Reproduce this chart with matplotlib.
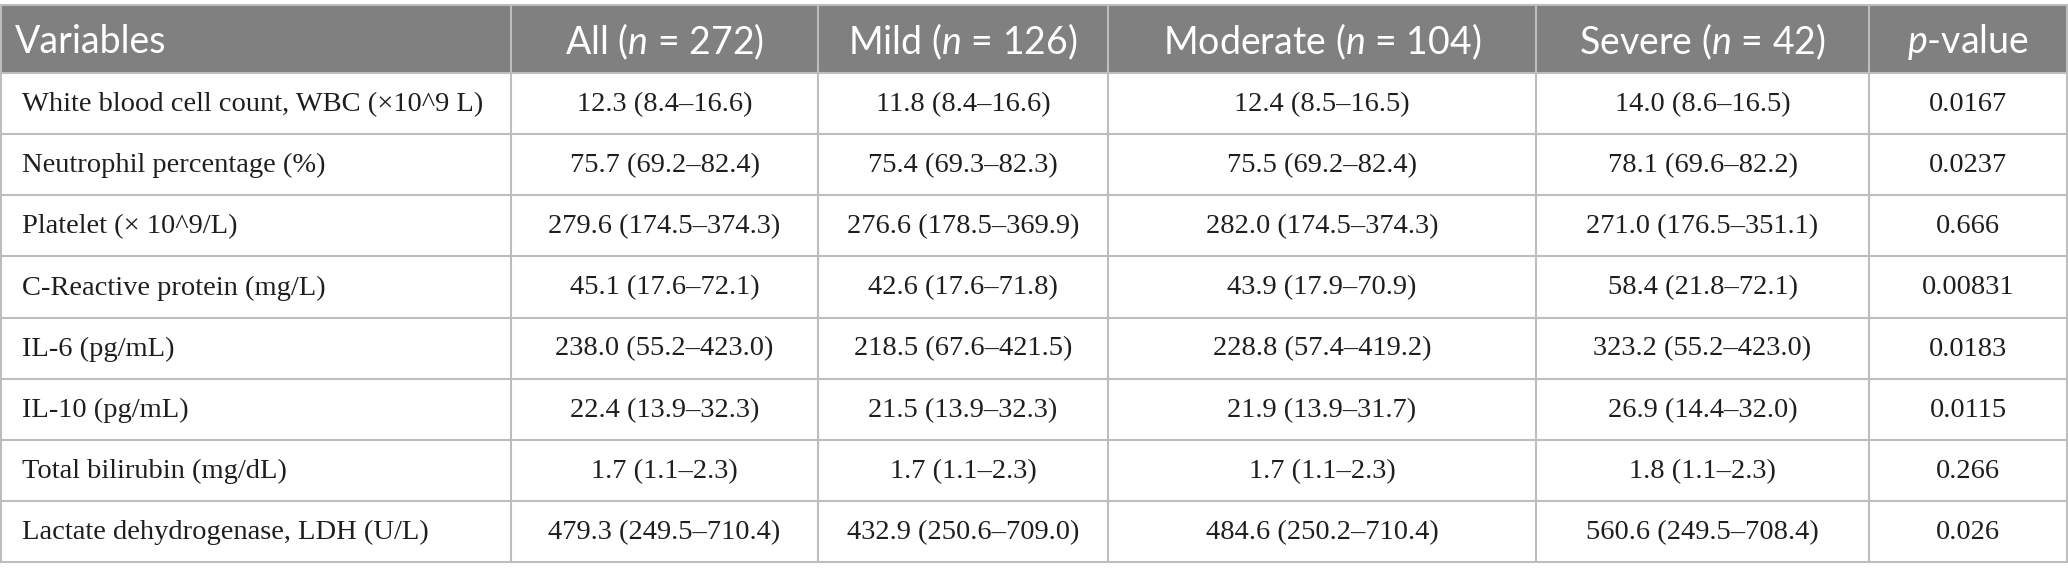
import matplotlib
matplotlib.use("Agg")
import matplotlib.pyplot as plt
from matplotlib.patches import Rectangle

plt.rcParams['mathtext.fontset'] = 'custom'
plt.rcParams['mathtext.rm'] = 'Lato'
plt.rcParams['mathtext.it'] = 'Lato:italic'

# table content
headers = ['Variables', 'All ($n$ = 272)', 'Mild ($n$ = 126)', 'Moderate ($n$ = 104)',
           'Severe ($n$ = 42)', '$p$-value']
variables = ['White blood cell count, WBC (×10^9 L)', 'Neutrophil percentage (%)',
             'Platelet (× 10^9/L)', 'C-Reactive protein (mg/L)', 'IL-6 (pg/mL)',
             'IL-10 (pg/mL)', 'Total bilirubin (mg/dL)', 'Lactate dehydrogenase, LDH (U/L)']
all_grp = ['12.3 (8.4–16.6)', '75.7 (69.2–82.4)', '279.6 (174.5–374.3)', '45.1 (17.6–72.1)',
           '238.0 (55.2–423.0)', '22.4 (13.9–32.3)', '1.7 (1.1–2.3)', '479.3 (249.5–710.4)']
mild = ['11.8 (8.4–16.6)', '75.4 (69.3–82.3)', '276.6 (178.5–369.9)', '42.6 (17.6–71.8)',
        '218.5 (67.6–421.5)', '21.5 (13.9–32.3)', '1.7 (1.1–2.3)', '432.9 (250.6–709.0)']
moderate = ['12.4 (8.5–16.5)', '75.5 (69.2–82.4)', '282.0 (174.5–374.3)', '43.9 (17.9–70.9)',
            '228.8 (57.4–419.2)', '21.9 (13.9–31.7)', '1.7 (1.1–2.3)', '484.6 (250.2–710.4)']
severe = ['14.0 (8.6–16.5)', '78.1 (69.6–82.2)', '271.0 (176.5–351.1)', '58.4 (21.8–72.1)',
          '323.2 (55.2–423.0)', '26.9 (14.4–32.0)', '1.8 (1.1–2.3)', '560.6 (249.5–708.4)']
p_values = ['0.0167', '0.0237', '0.666', '0.00831', '0.0183', '0.0115', '0.266', '0.026']

columns = [variables, all_grp, mild, moderate, severe, p_values]

# layout in pixels
col_edges = [1, 511, 818, 1108, 1536, 1869, 2067]
top, head_bottom, bottom = 5, 73, 562
row_h = (bottom - head_bottom) / len(variables)
line_col = '#bdbdbd'
head_col = '#808080'
text_col = '#1e1e1e'

fig = plt.figure(figsize=(20.68, 5.82), dpi=100)
ax = fig.add_axes([0, 0, 1, 1])
ax.set_xlim(0, 2068)
ax.set_ylim(582, 0)
ax.axis('off')

# header band
ax.add_patch(Rectangle((col_edges[0], top), col_edges[-1] - col_edges[0], head_bottom - top,
                       facecolor=head_col, edgecolor='none'))
hy = (top + head_bottom) / 2 + 3
for i, h in enumerate(headers):
    if i == 0:
        ax.text(col_edges[0] + 14, hy, h, ha='left', va='center',
                fontsize=27, color='white', family='Lato')
    else:
        ax.text((col_edges[i] + col_edges[i + 1]) / 2, hy, h,
                ha='center', va='center', fontsize=27, color='white', family='Lato')

# body
for r in range(len(variables)):
    yc = head_bottom + (r + 0.5) * row_h + 1
    for c, col in enumerate(columns):
        if c == 0:
            ax.text(col_edges[0] + 21, yc, col[r], ha='left', va='center',
                    fontsize=20.5, color=text_col, family='Liberation Serif')
        else:
            ax.text((col_edges[c] + col_edges[c + 1]) / 2, yc, col[r], ha='center',
                    va='center', fontsize=20.5, color=text_col, family='Liberation Serif')

# grid lines
for r in range(len(variables) + 1):
    y = head_bottom + r * row_h
    ax.plot([col_edges[0], col_edges[-1]], [y, y], color=line_col, lw=1.5)
ax.plot([col_edges[0], col_edges[-1]], [top, top], color=line_col, lw=1.5)
for x in col_edges:
    ax.plot([x, x], [top, bottom], color=line_col, lw=1.5)

fig.savefig('out.png', dpi=100)
